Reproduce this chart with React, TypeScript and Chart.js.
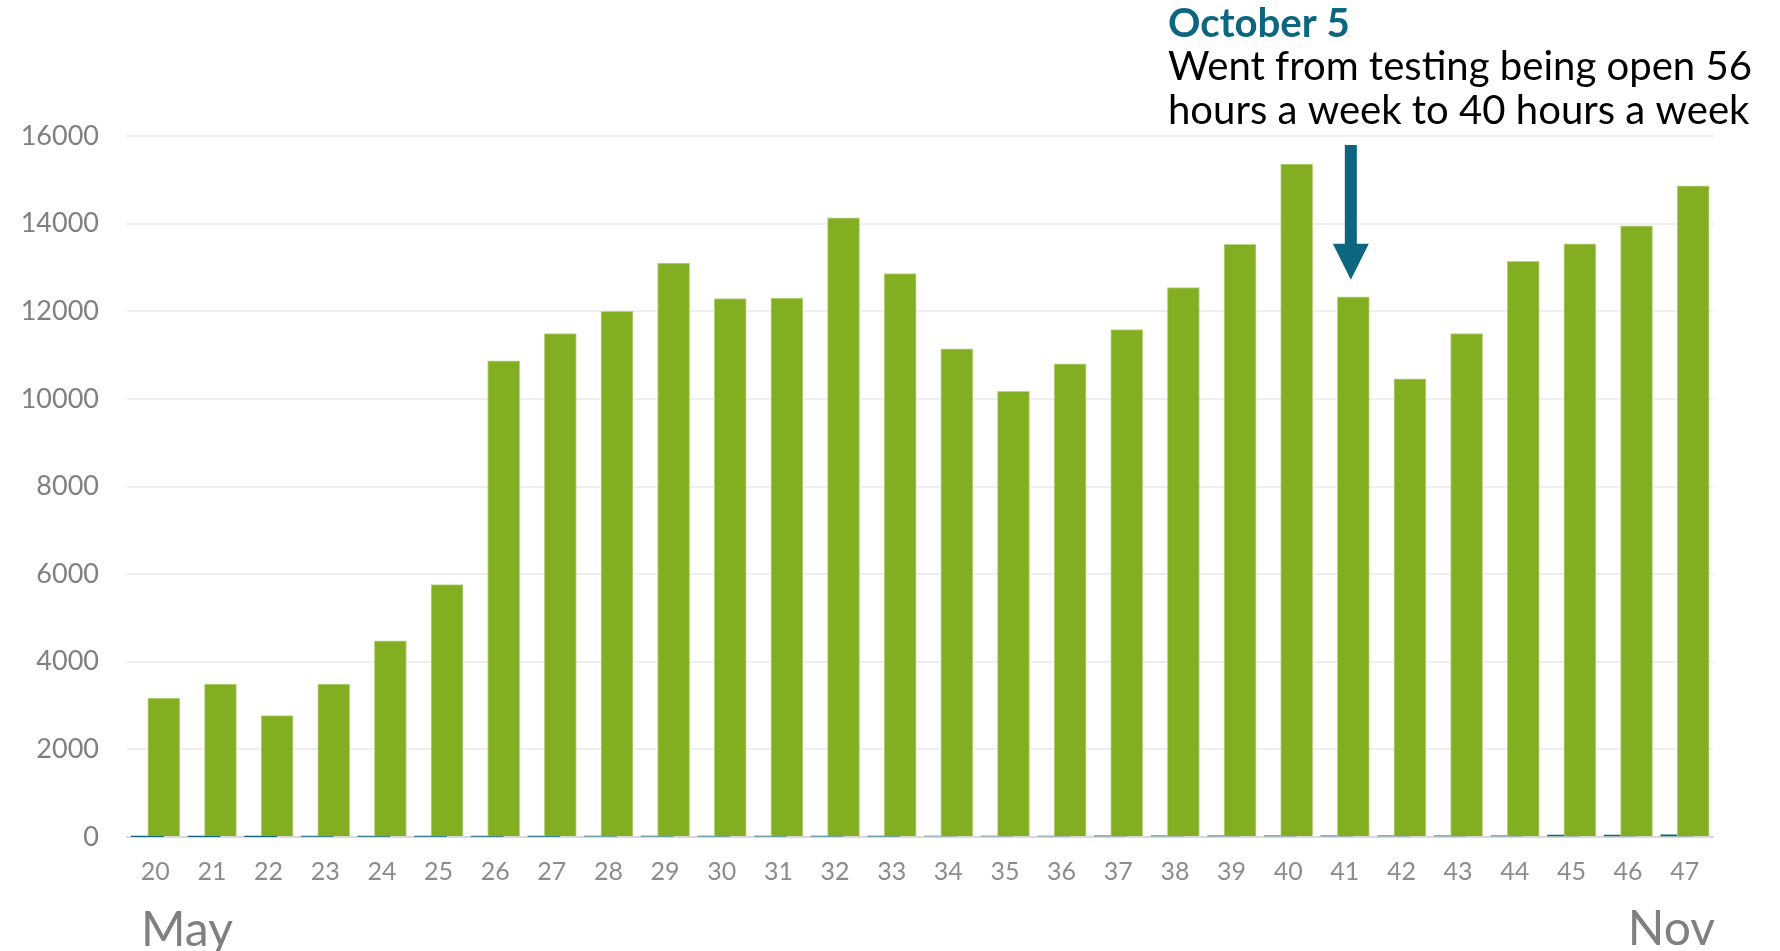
import React, { useEffect, useRef } from "react";
import { Chart, registerables } from "chart.js";

Chart.register(...registerables);

const weeks = ["20","21","22","23","24","25","26","27","28","29","30","31","32","33","34","35","36","37","38","39","40","41","42","43","44","45","46","47"];
const testsPerWeek = [3170,3490,2770,3490,4480,5760,10870,11490,12000,13100,12290,12300,14130,12860,11140,10170,10800,11580,12540,13530,15360,12330,10460,11490,13140,13540,13950,14860];
const smallSeries = [8,10,10,14,15,15,16,16,17,18,20,20,21,21,22,22,23,26,26,27,27,27,27,27,28,45,46,48];
const yTicks = [0,2000,4000,6000,8000,10000,12000,14000,16000];
const startMonth = "May";
const endMonth = "Nov";
const noteTitle = "October 5";
const noteLines = ["Went from testing being open 56", "hours a week to 40 hours a week"];
const noteWeek = "41";

const GREEN = "#83ae22";
const TEAL = "#0d6680";
const FONT = "Lato, 'Open Sans', sans-serif";

function fitSize(ctx: CanvasRenderingContext2D, text: string, width: number, weight: string) {
  ctx.font = `${weight} 100px ${FONT}`;
  const w = ctx.measureText(text).width;
  return (100 * width) / w;
}

const overlayPlugin = {
  id: "overlay",
  afterDraw(chart: any) {
    const ctx: CanvasRenderingContext2D = chart.ctx;
    const area = chart.chartArea;
    const xl = chart.scales.xl;
    const y = chart.scales.y;
    ctx.save();
    ctx.fillStyle = "#808080";
    ctx.textBaseline = "alphabetic";
    ctx.font = `48px ${FONT}`;
    ctx.textAlign = "left";
    ctx.fillText(startMonth, area.left + 14, 946);
    ctx.textAlign = "right";
    ctx.fillText(endMonth, area.right + 2, 945);

    const left = 1168;
    ctx.textAlign = "left";
    ctx.fillStyle = TEAL;
    const ts = fitSize(ctx, noteTitle, 182, "bold");
    ctx.font = `bold ${ts}px ${FONT}`;
    ctx.fillText(noteTitle, left, 37);
    ctx.fillStyle = "#000000";
    const ls = Math.min(fitSize(ctx, noteLines[0], 584, "normal"), fitSize(ctx, noteLines[1], 582, "normal"));
    ctx.font = `normal ${ls}px ${FONT}`;
    ctx.fillText(noteLines[0], left, 80);
    ctx.fillText(noteLines[1], left, 124);

    const idx = weeks.indexOf(noteWeek);
    const cx = xl.getPixelForValue(idx) + 6;
    const tip = y.getPixelForValue(testsPerWeek[idx]) - 17;
    const headTop = tip - 36;
    ctx.fillStyle = TEAL;
    ctx.fillRect(cx - 6, 145, 12, headTop - 145 + 1);
    ctx.beginPath();
    ctx.moveTo(cx - 18, headTop);
    ctx.lineTo(cx + 18, headTop);
    ctx.lineTo(cx, tip);
    ctx.closePath();
    ctx.fill();
    ctx.restore();
  },
};

export default function App() {
  const canvasRef = useRef<HTMLCanvasElement | null>(null);

  useEffect(() => {
    if (!canvasRef.current) return;
    const chart = new Chart(canvasRef.current, {
      type: "bar",
      data: {
        labels: weeks,
        datasets: [
          {
            label: "Tests",
            data: testsPerWeek.map((v, i) => ({ x: i + 0.15, y: v })),
            backgroundColor: GREEN,
            borderColor: "#b9d483",
            borderWidth: 1,
            barThickness: 32,
            grouped: false,
            xAxisID: "xl",
            yAxisID: "y",
          },
          {
            label: "Other",
            data: smallSeries.map((v, i) => ({ x: i - 0.14, y: v })),
            backgroundColor: TEAL,
            borderWidth: 0,
            barThickness: 32,
            grouped: false,
            xAxisID: "xl",
            yAxisID: "y",
          },
        ],
      } as any,
      options: {
        animation: false,
        responsive: true,
        maintainAspectRatio: false,
        layout: { padding: { top: 136, right: 67, left: 0, bottom: 0 } },
        plugins: { legend: { display: false }, tooltip: { enabled: false } },
        scales: {
          x: {
            type: "category",
            offset: true,
            grid: { display: false, drawTicks: false },
            border: { display: true, color: "#d9d9d9", width: 2 },
            ticks: { color: "#8c8c8c", font: { family: FONT, size: 25 }, padding: 20, maxRotation: 0, autoSkip: false },
            afterFit: (s: any) => { s.height = 114; },
          },
          xl: {
            type: "linear",
            display: false,
            offset: false,
            bounds: "ticks",
            grace: 0,
            min: -0.5,
            max: 27.5,
            grid: { offset: false },
          },
          y: {
            min: 0,
            max: 16000,
            afterBuildTicks: (s: any) => { s.ticks = yTicks.map((v) => ({ value: v })); },
            grid: { color: "#efefef", lineWidth: 2, drawTicks: false },
            border: { display: false },
            ticks: {
              color: "#808080",
              font: { family: FONT, size: 27 },
              padding: 28,
              callback: (v: any) => String(v),
            },
            afterFit: (s: any) => { s.width = 127; },
          },
        },
      } as any,
      plugins: [overlayPlugin],
    });
    return () => chart.destroy();
  }, []);

  return (
    <div style={{ position: "fixed", left: 0, top: 0, width: 1780, height: 951, background: "#ffffff" }}>
      <canvas ref={canvasRef} style={{ width: "100%", height: "100%" }} />
    </div>
  );
}
